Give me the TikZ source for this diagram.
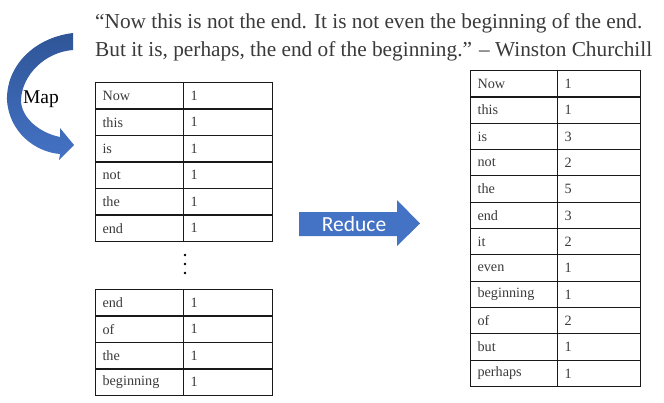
\documentclass[tikz,border=0pt]{standalone}
\usepackage{fontspec}
\setmainfont{Liberation Serif}
\newfontfamily\reducefont{Carlito}
\definecolor{txt}{HTML}{3A3A3A}
\definecolor{blueA}{HTML}{4472C4}
\definecolor{blueB}{HTML}{2F5597}
\begin{document}
\begin{tikzpicture}[x=1pt,y=-1pt]
\useasboundingbox (0,0) rectangle (664,402);
\tikzset{
  cellw/.style={draw=black!90, line width=1.1pt, minimum height=26.4pt, inner xsep=7pt, inner ysep=0pt,
    text width=#1, align=left, anchor=north west, text=txt, font=\fontsize{14.2}{15}\selectfont},
  quote/.style={anchor=base west, inner sep=0pt, text=txt, font=\fontsize{21.3}{24}\selectfont},
  dot/.style={circle, fill=black, inner sep=0pt, minimum size=2.8pt}
}
% quote
\node[quote] (q1) at (95,28) {“Now this is not the end. It is not even the beginning of the end.};
\node[quote] (q2) at (95,56) {But it is, perhaps, the end of the beginning.” – Winston Churchill};
% table 1
\foreach \w/\n [count=\i] in {Now/1,this/1,is/1,not/1,the/1,end/1}{
  \node[cellw=74pt] (a\i) at (95,{82+(\i-1)*26.5}) {\w};
  \node[cellw=75pt] (b\i) at (183,{82+(\i-1)*26.5}) {\n};
}
\node[dot] (dot1) at (185,255) {};
\node[dot] (dot2) at (185,264) {};
\node[dot] (dot3) at (185,273) {};
% table 2
\foreach \w/\n [count=\i] in {end/1,of/1,the/1,beginning/1}{
  \node[cellw=74pt] (c\i) at (95,{289+(\i-1)*26.5}) {\w};
  \node[cellw=75pt] (d\i) at (183,{289+(\i-1)*26.5}) {\n};
}
% table 3
\foreach \w/\n [count=\i] in {Now/1,this/1,is/3,not/2,the/5,end/3,it/2,even/1,beginning/1,of/2,but/1,perhaps/1}{
  \node[cellw=73pt] (e\i) at (470,{70+(\i-1)*26.33}) {\w};
  \node[cellw=69pt] (f\i) at (557,{70+(\i-1)*26.33}) {\n};
}
% reduce arrow
\fill[blueA] (299,212) -- (397,212) -- (397,200) -- (420,223.5) -- (397,246) -- (397,236) -- (299,236) -- cycle;
\node[text=white, font=\reducefont\fontsize{21.5}{21.5}\selectfont] (reduce) at (354,224) {Reduce};
% map arrow
\shade[top color=blueB, bottom color=blueA]
  (73,33) .. controls (32,38) and (6,68) .. (7,100)
  .. controls (9,132) and (35,152) .. (60,154)
  -- (59,160) -- (74,145) -- (60,128) -- (60,137)
  .. controls (40,133) and (21,118) .. (21,100)
  .. controls (22,75) and (45,52) .. (73,50) -- cycle;
\node[text=black, font=\fontsize{19.5}{19.5}\selectfont, inner sep=0pt] (map) at (41,99) {Map};
\end{tikzpicture}
\end{document}
